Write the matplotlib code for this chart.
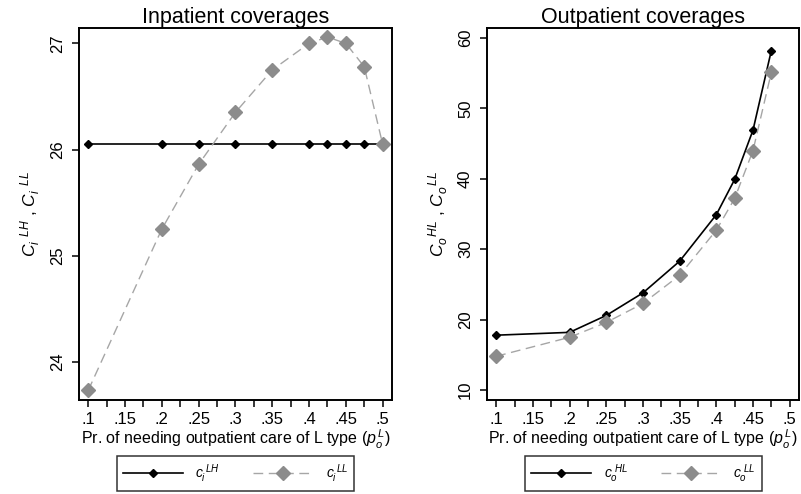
import matplotlib
matplotlib.use("Agg")
import matplotlib.pyplot as plt
import numpy as np

plt.rcParams['font.family'] = ['Liberation Sans', 'DejaVu Sans']
plt.rcParams['mathtext.fontset'] = 'custom'
plt.rcParams['mathtext.it'] = 'Liberation Sans:italic'
plt.rcParams['mathtext.rm'] = 'Liberation Sans'

# data
p_in = [0.1, 0.2, 0.25, 0.3, 0.35, 0.4, 0.425, 0.45, 0.475, 0.5]
ci_lh = [26.05, 26.05, 26.05, 26.05, 26.05, 26.05, 26.05, 26.05, 26.05, 26.05]
ci_ll = [23.73, 25.25, 25.86, 26.35, 26.75, 27.0, 27.06, 27.0, 26.78, 26.05]

p_out = [0.1, 0.2, 0.25, 0.3, 0.35, 0.4, 0.425, 0.45, 0.475]
co_hl = [17.8, 18.2, 20.6, 23.8, 28.3, 34.9, 39.9, 46.9, 58.2]
co_ll = [14.8, 17.5, 19.6, 22.3, 26.3, 32.7, 37.2, 44.0, 55.1]

xticks = [0.1, 0.15, 0.2, 0.25, 0.3, 0.35, 0.4, 0.45, 0.5]
xticklabels = ['.1', '.15', '.2', '.25', '.3', '.35', '.4', '.45', '.5']

gray = '#8c8c8c'
dash_gray = '#a6a6a6'
xlabel = r'Pr. of needing outpatient care of L type ($p_{o}^{\,L}$)'

fig = plt.figure(figsize=(8.01, 4.94), dpi=100)
ax1 = fig.add_axes([79/801, 1 - 400/494, 313/801, 372/494])
ax2 = fig.add_axes([487/801, 1 - 400/494, 312/801, 372/494])


def style(ax, title):
    ax.set_title(title, fontsize=15.5, pad=3)
    for s in ax.spines.values():
        s.set_linewidth(1.4)
    ax.set_xlim(0.0875, 0.5127)
    ax.set_xticks(xticks)
    ax.set_xticklabels(xticklabels)
    ax.set_xticks(np.arange(0.125, 0.5, 0.05), minor=True)
    ax.tick_params(which='both', direction='out', length=5, width=1.1, labelsize=12)
    ax.tick_params(axis='y', labelrotation=90, pad=5)
    for lab in ax.get_yticklabels():
        lab.set_va('center')
    ax.set_xlabel(xlabel, fontsize=11.5, labelpad=1)


def legend(ax, handles, labels, cx):
    leg = ax.legend(handles, labels, ncol=2, loc='center',
                    bbox_to_anchor=(cx, 1 - 473.5/494), bbox_transform=fig.transFigure,
                    handlelength=4.3, handletextpad=0.9, columnspacing=2.4,
                    fancybox=False, edgecolor='black', fontsize=10, borderpad=0.45)
    leg.get_frame().set_linewidth(1.1)


l1, = ax1.plot(p_in, ci_lh, color='black', lw=1.2, marker='D', ms=4.5, zorder=3)
l2, = ax1.plot(p_in, ci_ll, color=dash_gray, lw=1.0, ls=(0, (7, 4)), marker='D',
               ms=7, mfc=gray, mec=gray, zorder=4)
ax1.set_ylim(23.64, 27.145)
ax1.set_yticks([24, 25, 26, 27])
style(ax1, 'Inpatient coverages')
for lab in ax1.get_yticklabels():
    lab.set_va('center')
ax1.set_ylabel(r'$C_i^{\ \ LH}$ , $C_i^{\ \ LL}$', fontsize=12.5, labelpad=5)
legend(ax1, [l1, l2], [r'$c_i^{\ LH}$', r'$c_i^{\ LL}$'], 235.5/801)

m1, = ax2.plot(p_out, co_hl, color='black', lw=1.2, marker='D', ms=4.5, zorder=3)
m2, = ax2.plot(p_out, co_ll, color=dash_gray, lw=1.0, ls=(0, (7, 4)), marker='D',
               ms=7, mfc=gray, mec=gray, zorder=4)
ax2.set_ylim(8.6, 61.4)
ax2.set_yticks([10, 20, 30, 40, 50, 60])
style(ax2, 'Outpatient coverages')
for lab in ax2.get_yticklabels():
    lab.set_va('center')
ax2.set_ylabel(r'$C_o^{\ \ HL}$ , $C_o^{\ \ LL}$', fontsize=12.5, labelpad=5)
legend(ax2, [m1, m2], [r'$c_o^{\ HL}$', r'$c_o^{\ LL}$'], 643.5/801)

fig.savefig('out.png', dpi=100)
